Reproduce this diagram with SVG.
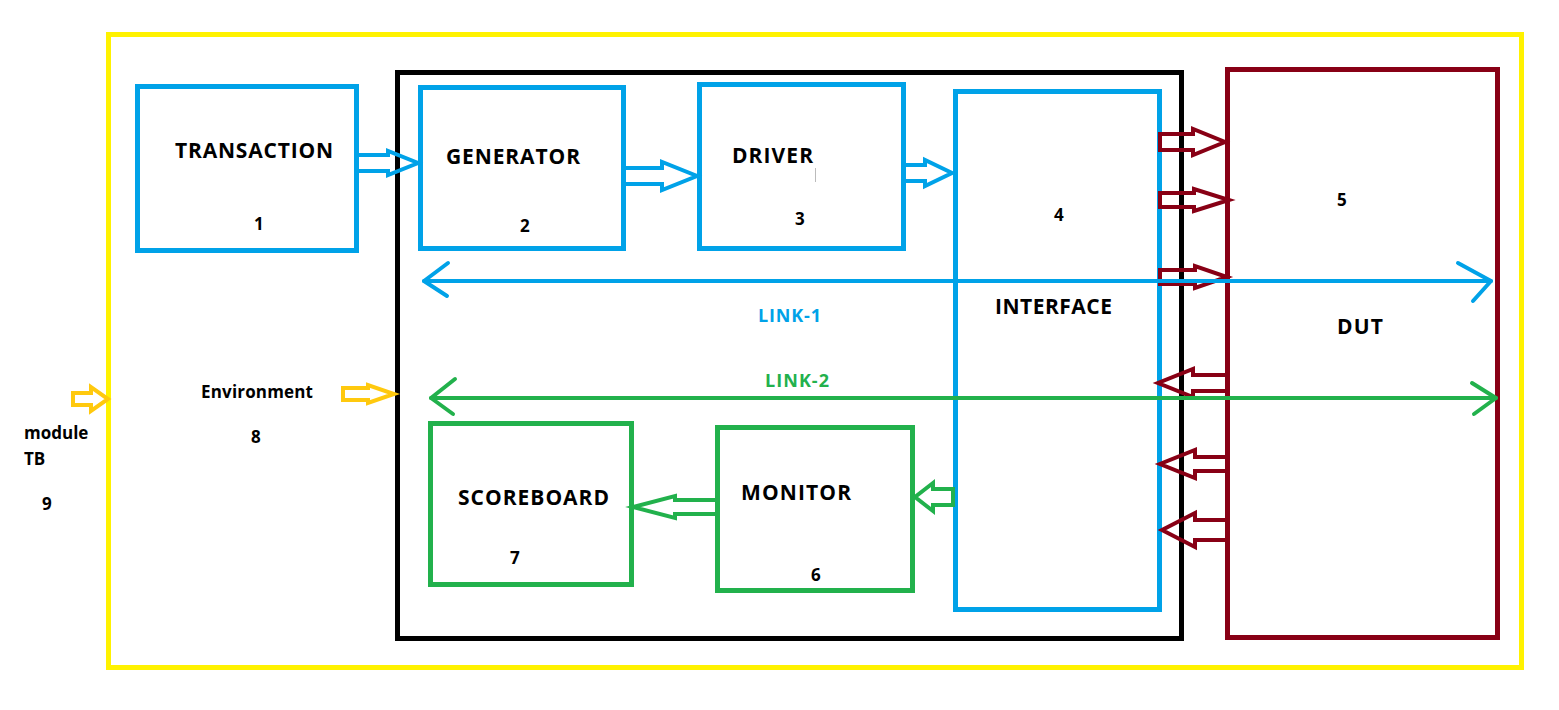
<svg xmlns="http://www.w3.org/2000/svg" width="1559" height="710" viewBox="0 0 1559 710">
<style>
  .box{fill:none;stroke-width:5}
  .blue{stroke:#00A2E8}
  .green{stroke:#22B14C}
  .red{stroke:#880015}
  .yel{stroke:#FFF200}
  .blk{stroke:#000}
  .arr{fill:none;stroke-width:4;stroke-linejoin:miter}
  .org{stroke:#FFC90E}
  .link{fill:none;stroke-width:4;stroke-linecap:round;stroke-linejoin:round}
  text{font-family:"Open Sans","Liberation Sans",sans-serif;font-weight:bold;font-size:21px;fill:#000}
  .sm{font-size:17px}
  .lk{font-size:18px}
</style>
<rect width="1559" height="710" fill="#fff"/>
<g id="tb">
  <rect class="box yel" x="108.5" y="34.5" width="1413" height="633"/>
  <text x="24" y="439" class="sm">module</text>
  <text x="24" y="465" class="sm">TB</text>
  <text x="42" y="510" class="sm">9</text>
</g>
<g id="environment">
  <rect class="box blk" x="397.5" y="72.5" width="784" height="566"/>
  <text x="201" y="398" class="sm" textLength="112" lengthAdjust="spacing">Environment</text>
  <text x="251" y="443" class="sm">8</text>
</g>
<g id="dut">
  <rect class="box red" x="1227.5" y="69.5" width="270" height="568"/>
  <text x="1337" y="206" class="sm">5</text>
  <text x="1337" y="334" textLength="46" lengthAdjust="spacing">DUT</text>
</g>
<g id="transaction">
  <rect class="box blue" x="137.5" y="86.5" width="219" height="164"/>
  <text x="175" y="158" textLength="158" lengthAdjust="spacing">TRANSACTION</text>
  <text x="254" y="230" class="sm">1</text>
</g>
<g id="generator">
  <rect class="box blue" x="420.5" y="87.5" width="203" height="161"/>
  <text x="446" y="164" textLength="134" lengthAdjust="spacing">GENERATOR</text>
  <text x="520" y="232" class="sm">2</text>
</g>
<g id="driver">
  <rect class="box blue" x="699.5" y="84.5" width="204" height="164"/>
  <text x="732" y="163" textLength="81" lengthAdjust="spacing">DRIVER</text>
  <text x="795" y="225" class="sm">3</text>
  <line x1="815.5" y1="168" x2="815.5" y2="182" stroke="#bbb" stroke-width="1"/>
</g>
<g id="interface">
  <rect class="box blue" x="955.5" y="91.5" width="204" height="518"/>
  <text x="1054" y="221" class="sm">4</text>
  <text x="995" y="314" textLength="117" lengthAdjust="spacing">INTERFACE</text>
</g>
<g id="monitor">
  <rect class="box green" x="717.5" y="427.5" width="195" height="163"/>
  <text x="741" y="500" textLength="110" lengthAdjust="spacing">MONITOR</text>
  <text x="811" y="581" class="sm">6</text>
</g>
<g id="scoreboard">
  <rect class="box green" x="430.5" y="423.5" width="201" height="161"/>
  <text x="458" y="505" textLength="151" lengthAdjust="spacing">SCOREBOARD</text>
  <text x="510" y="564" class="sm">7</text>
</g>
<g id="connectors">
  <polygon class="arr blue" points="357,155 388,155 388,151 418,163 388,175 388,171 357,171"/>
  <polygon class="arr blue" points="624,168 662,168 662,162 697,176 662,190 662,184 624,184"/>
  <polygon class="arr blue" points="904,165 925,165 925,160 952,173 925,186 925,181 904,181"/>
  <polygon class="arr red" points="1160,134 1193,134 1193,129 1225,142 1193,155 1193,150 1160,150"/>
  <polygon class="arr red" points="1160,193 1194,193 1194,189 1229,200 1194,211 1194,207 1160,207"/>
  <polygon class="arr red" points="1160,270 1195,270 1195,266 1227,277 1195,288 1195,284 1160,284"/>
  <polygon class="arr red" points="1227,375 1193,375 1193,369 1158,383 1193,397 1193,391 1227,391"/>
  <polygon class="arr red" points="1227,457 1195,457 1195,450 1160,464 1195,478 1195,471 1227,471"/>
  <polygon class="arr red" points="1227,520 1195,520 1195,513 1162,530 1195,547 1195,540 1227,540"/>
  <polygon class="arr green" points="953,489 933,489 933,483 915,497 933,511 933,505 953,505"/>
  <polygon class="arr green" points="717,500 675,500 675,496 633,507 675,518 675,514 717,514"/>
  <polygon class="arr org" points="73,393 91,393 91,387 108,399 91,411 91,405 73,405"/>
  <polygon class="arr org" points="343,388 368,388 368,385 394,394 368,403 368,400 343,400"/>
  <g class="link blue">
    <line x1="424" y1="281" x2="1491" y2="281"/>
    <polyline points="448,263 424,281 447,296"/>
    <polyline points="1458,263 1491,281 1473,301"/>
  </g>
  <g class="link green">
    <line x1="431" y1="398" x2="1496" y2="398"/>
    <polyline points="455,379 431,398 453,414"/>
    <polyline points="1472,383 1496,398 1474,414"/>
  </g>
  <text x="758" y="322" style="fill:#00A2E8" class="lk" textLength="63" lengthAdjust="spacing">LINK-1</text>
  <text x="765" y="387" style="fill:#22B14C" class="lk" textLength="64" lengthAdjust="spacing">LINK-2</text>
</g>
</svg>
